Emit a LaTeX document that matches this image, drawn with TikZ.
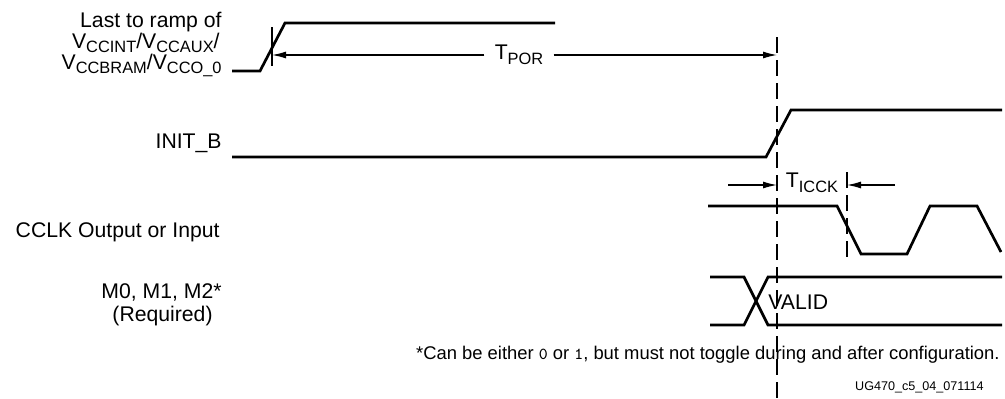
\documentclass[tikz,border=0pt]{standalone}
\usepackage{fontspec}
\setmainfont{Liberation Sans}
\usetikzlibrary{arrows.meta}

\newcommand{\sbs}[1]{\raisebox{-2.4pt}{\fontsize{8.2}{9}\selectfont #1}}

\tikzset{
  txt/.style={inner sep=0pt, font=\fontsize{10.6}{12}\selectfont},
  lbl/.style={txt, anchor=base east},
  sig/.style={line width=1.35pt, line join=miter},
  dim/.style={line width=0.6pt, -{Latex[length=7pt,width=3.5pt]}},
  guide/.style={line width=0.6pt, dash pattern=on 8pt off 3.5pt},
  tick/.style={line width=0.6pt}
}

\begin{document}
\begin{tikzpicture}[x=0.5pt,y=-0.5pt]
\useasboundingbox (0,0) rectangle (1005,398);

\node[lbl] (ramp1) at (222,27) {Last to ramp of};

\node[lbl] (ramp2) at (220,48) {V\sbs{CCINT}/V\sbs{CCAUX}/};

\node[lbl] (ramp3) at (222,69) {V\sbs{CCBRAM}/V\sbs{CCO\_0}};

\node[lbl] (initb) at (222,148) {INIT\_B};

\node[lbl] (cclk) at (220,237) {CCLK Output or Input};

\node[lbl] (mode1) at (222,298) {M0, M1, M2*};

\node[lbl] (mode2) at (213,321) {(Required)};

\node[txt, inner xsep=5pt] (tpor) at (519,55) {T\sbs{POR}};

\node[txt] (ticck) at (812,183) {T\sbs{ICCK}};

\node[txt, anchor=base west] (valid) at (768,309) {VALID};

\node[lbl, font=\fontsize{9.2}{11}\selectfont] (note) at (1000,359) {*Can be either {\ttfamily\fontsize{8.4}{9}\selectfont 0} or {\ttfamily\fontsize{8.4}{9}\selectfont 1}, but must not toggle during and after configuration.};

\node[lbl, font=\fontsize{6.3}{7}\selectfont] (ug) at (984,390) {UG470\_c5\_04\_071114};


\coordinate (g1t) at (777,37);
\coordinate (g1b) at (777,398);
\coordinate (g2t) at (847,172);
\coordinate (g2b) at (847,260);
\coordinate (tkt) at (272,27);
\coordinate (tkb) at (272,66);

\coordinate (porl) at (272,55);
\coordinate (porr) at (777,55);
\coordinate (ickl) at (728,185);
\coordinate (ickla) at (777,185);
\coordinate (ickr) at (895,185);
\coordinate (ickra) at (847,185);


\draw[guide] (g1t) -- (g1b);
\draw[guide] (g2t) -- (g2b);
\draw[tick] (tkt) -- (tkb);

\draw[dim] (tpor.west) -- (porl);
\draw[dim] (tpor.east) -- (porr);
\draw[dim] (ickl) -- (ickla);
\draw[dim] (ickr) -- (ickra);


\draw[sig] (232,71) -- (260,71) -- (285,23) -- (555,23);
\draw[sig] (232,157) -- (766,157) -- (791,110) -- (1002,110);
\draw[sig] (708,206) -- (837,206) -- (861,254) -- (907,254) -- (930,206) -- (977,206) -- (1001,252);
\draw[sig] (710,277) -- (744,277) -- (768,325) -- (1002,325);
\draw[sig] (710,325) -- (744,325) -- (768,277) -- (1002,277);

\end{tikzpicture}
\end{document}
